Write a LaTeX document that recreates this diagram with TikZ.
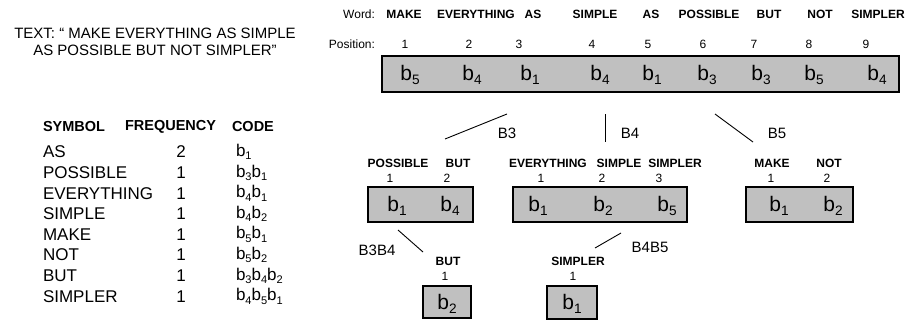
\documentclass[tikz,border=0pt]{standalone}
\usepackage{fontspec}
\setmainfont{Liberation Sans}
\usepackage{graphicx}
\definecolor{boxgray}{RGB}{192,192,192}
\newcommand{\bsb}[1]{b\raisebox{-0.2em}{\scalebox{0.65}{#1}}}
\begin{document}
\begin{tikzpicture}[x=1pt,y=-1pt,
  every node/.style={inner sep=0pt, outer sep=0pt},
  wd/.style={font=\fontsize{12}{14}\selectfont\bfseries},
  num/.style={font=\fontsize{12}{14}\selectfont},
  bb/.style={font=\fontsize{21}{24}\selectfont},
  lbl/.style={font=\fontsize{15}{18}\selectfont},
  tbl/.style={font=\fontsize{17}{20}\selectfont},
  hdr/.style={font=\fontsize{14.5}{17}\selectfont\bfseries, anchor=west},
  cbox/.style={draw, fill=boxgray, line width=1.1pt},
  conn/.style={line width=0.9pt}]
\useasboundingbox (0,0) rectangle (909,322);

% ---- quoted text ----
\node[align=center, font=\fontsize{15}{17}\selectfont] (txt) at (155,42)
  {TEXT: “ MAKE EVERYTHING AS SIMPLE\\AS POSSIBLE BUT NOT SIMPLER”};

% ---- top row ----
\node[num, anchor=east] (wl) at (375,14) {Word:};
\node[num, anchor=east] (pl) at (375,44) {Position:};
\node[cbox, minimum width=517pt, minimum height=36pt] (main) at (640.5,74) {};
\foreach \w/\x [count=\i] in {MAKE/404,EVERYTHING/476,AS/533,SIMPLE/595,AS/651,POSSIBLE/709,BUT/769,NOT/820,SIMPLER/878}
  \node[wd] (w\i) at (\x,14) {\w};
\foreach \x [count=\i] in {405,469,519,592,648,703,754,809,866}
  \node[num] (p\i) at (\x,44) {\i};
\foreach \s/\x [count=\i] in {5/410,4/472,1/530,4/600,1/652,3/707,3/761,5/814,4/877}
  \node[bb] (m\i) at (\x,75) {\bsb{\s}};

% ---- branches ----
\coordinate (c3a) at (445,139); \coordinate (c3b) at (507,114);
\coordinate (c4a) at (605,114); \coordinate (c4b) at (605,142);
\coordinate (c5a) at (715,114); \coordinate (c5b) at (753,142);
\draw[conn] (c3a) -- (c3b);
\draw[conn] (c4a) -- (c4b);
\draw[conn] (c5a) -- (c5b);
\node[lbl] (B3) at (507,133) {B3};
\node[lbl] (B4) at (630,133) {B4};
\node[lbl] (B5) at (777,133) {B5};

% ---- box A ----
\node[cbox, minimum width=105pt, minimum height=35pt] (boxA) at (420.5,204.5) {};
\node[wd] (a1w) at (398,163) {POSSIBLE};
\node[wd] (a2w) at (458,163) {BUT};
\node[num] (a1n) at (390,178) {1};
\node[num] (a2n) at (447,178) {2};
\node[bb] (a1b) at (397,206) {\bsb{1}};
\node[bb] (a2b) at (450,206) {\bsb{4}};

% ---- box B ----
\node[cbox, minimum width=174pt, minimum height=35pt] (boxB) at (600,204.5) {};
\node[wd] (b1w) at (548,163) {EVERYTHING};
\node[wd] (b2w) at (619,163) {SIMPLE};
\node[wd] (b3w) at (675,163) {SIMPLER};
\node[num] (b1n) at (541,178) {1};
\node[num] (b2n) at (602,178) {2};
\node[num] (b3n) at (659,178) {3};
\node[bb] (b1b) at (538,206) {\bsb{1}};
\node[bb] (b2b) at (603,206) {\bsb{2}};
\node[bb] (b3b) at (667,206) {\bsb{5}};

% ---- box C ----
\node[cbox, minimum width=107pt, minimum height=35pt] (boxC) at (799.5,204.5) {};
\node[wd] (c1w) at (772,163) {MAKE};
\node[wd] (c2w) at (829,163) {NOT};
\node[num] (c1n) at (771,178) {1};
\node[num] (c2n) at (827,178) {2};
\node[bb] (c1b) at (779,206) {\bsb{1}};
\node[bb] (c2b) at (833,206) {\bsb{2}};

% ---- second level ----
\coordinate (d1a) at (398,230); \coordinate (d1b) at (423,252);
\coordinate (d2a) at (595,248); \coordinate (d2b) at (621,233);
\draw[conn] (d1a) -- (d1b);
\draw[conn] (d2a) -- (d2b);
\node[lbl] (B34) at (377,250) {B3B4};
\node[lbl] (B45) at (650,247) {B4B5};

\node[cbox, minimum width=48pt, minimum height=32pt] (boxD) at (447,302) {};
\node[wd] (d1w) at (448,261) {BUT};
\node[num] (d1n) at (445,276) {1};
\node[bb] (d1bb) at (447,304) {\bsb{2}};

\node[cbox, minimum width=50pt, minimum height=33pt] (boxE) at (572,302.5) {};
\node[wd] (e1w) at (578,261) {SIMPLER};
\node[num] (e1n) at (573,276) {1};
\node[bb] (e1bb) at (572,304) {\bsb{1}};

% ---- table ----
\node[hdr] (hs) at (43,127) {SYMBOL};
\node[hdr] (hf) at (125,127) {FREQUENCY};
\node[hdr] (hc) at (232,127) {CODE};
\foreach \s/\f/\c [count=\i, evaluate=\i as \y using 152+(\i-1)*20.6] in
  {AS/2/{\bsb{1}},POSSIBLE/1/{\bsb{3}\bsb{1}},EVERYTHING/1/{\bsb{4}\bsb{1}},SIMPLE/1/{\bsb{4}\bsb{2}},MAKE/1/{\bsb{5}\bsb{1}},NOT/1/{\bsb{5}\bsb{2}},BUT/1/{\bsb{3}\bsb{4}\bsb{2}},SIMPLER/1/{\bsb{4}\bsb{5}\bsb{1}}}
{
  \node[tbl, anchor=west] (ts\i) at (43,\y) {\s};
  \node[tbl] (tf\i) at (181,\y) {\f};
  \node[tbl, anchor=west] (tc\i) at (236,\y) {\c};
}
\end{tikzpicture}
\end{document}
